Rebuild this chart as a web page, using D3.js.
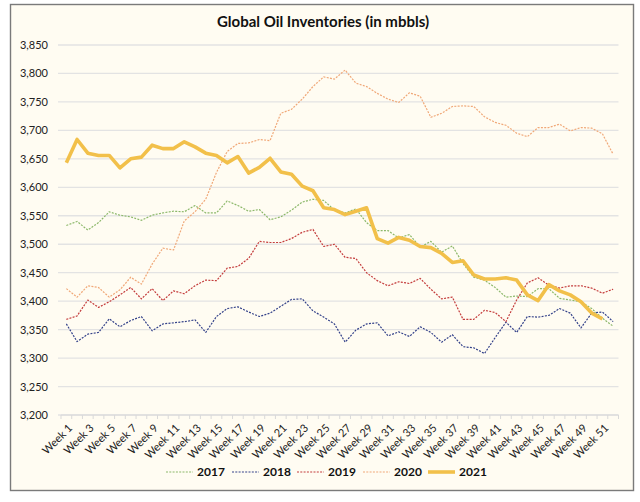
<!DOCTYPE html>
<html>
<head>
<meta charset="utf-8">
<script src="https://cdn.jsdelivr.net/npm/d3@7"></script>
<style>
  body { margin: 0; background: #ffffff; }
  text { font-family: Lato, "Open Sans", sans-serif; }
</style>
</head>
<body>
<div id="chart"></div>
<script>
// Input Data - weekly inventories (mbbls)
var weeks = d3.range(1, 53).map(function (i) { return "Week " + i; });
var yTicks = [3200, 3250, 3300, 3350, 3400, 3450, 3500, 3550, 3600, 3650, 3700, 3750, 3800, 3850];
var years = ["2017", "2018", "2019", "2020", "2021"];

var y2017 = [3533, 3540, 3525, 3538, 3557, 3551, 3548, 3542, 3551, 3555, 3558, 3557, 3568, 3555, 3555, 3576,
  3568, 3558, 3561, 3543, 3548, 3560, 3574, 3579, 3577, 3560, 3555, 3562, 3538, 3524, 3524, 3511, 3517, 3495,
  3505, 3486, 3497, 3466, 3442, 3437, 3424, 3407, 3409, 3408, 3422, 3422, 3405, 3402, 3399, 3387, 3370, 3356];
var y2018 = [3360, 3329, 3342, 3345, 3369, 3355, 3366, 3373, 3348, 3360, 3362, 3364, 3367, 3345, 3373, 3387,
  3390, 3381, 3373, 3379, 3391, 3403, 3404, 3383, 3372, 3360, 3328, 3349, 3360, 3362, 3339, 3346, 3338, 3355,
  3345, 3328, 3341, 3320, 3318, 3308, 3336, 3363, 3345, 3373, 3372, 3375, 3387, 3379, 3353, 3379, 3381, 3364];
var y2019 = [3368, 3374, 3402, 3389, 3399, 3411, 3424, 3404, 3422, 3401, 3418, 3413, 3427, 3437, 3436, 3458,
  3461, 3475, 3505, 3503, 3503, 3510, 3521, 3526, 3496, 3500, 3477, 3475, 3450, 3436, 3427, 3434, 3431, 3440,
  3421, 3404, 3407, 3368, 3368, 3384, 3380, 3364, 3402, 3432, 3441, 3428, 3423, 3427, 3427, 3423, 3414, 3421];
var y2020 = [3422, 3407, 3427, 3424, 3407, 3420, 3442, 3430, 3465, 3493, 3490, 3541, 3557, 3579, 3626, 3663,
  3677, 3678, 3684, 3682, 3730, 3737, 3755, 3777, 3794, 3790, 3806, 3783, 3777, 3765, 3755, 3749, 3766, 3760,
  3723, 3730, 3742, 3743, 3742, 3724, 3714, 3709, 3695, 3689, 3705, 3705, 3711, 3699, 3705, 3704, 3694, 3658];
var y2021 = [3643, 3684, 3660, 3656, 3656, 3634, 3650, 3653, 3674, 3668, 3668, 3680, 3671, 3660, 3656, 3643,
  3654, 3625, 3635, 3651, 3627, 3623, 3602, 3594, 3564, 3561, 3552, 3558, 3564, 3510, 3502, 3512, 3507, 3496,
  3494, 3484, 3468, 3471, 3446, 3439, 3439, 3441, 3437, 3411, 3401, 3429, 3418, 3411, 3399, 3379, 3369];

var seriesData = [y2017, y2018, y2019, y2020, y2021];
var colors = ["#8cb86a", "#34428a", "#c43c3c", "#f0a878", "#f2c04a"];

var W = 640, H = 502;
var margin = { top: 45, right: 22, bottom: 87, left: 61 };
var width = 618.5 - margin.left, height = 415 - margin.top;

var svgRoot = d3.select("#chart")
  .append("svg")
  .attr("width", W)
  .attr("height", H);

// chart frame
svgRoot.append("rect")
  .attr("x", 10.5).attr("y", 4.5)
  .attr("width", 623).attr("height", 486)
  .attr("fill", "#fffcf2")
  .attr("stroke", "#7a7a7a")
  .attr("stroke-width", 1.4);

svgRoot.append("text")
  .attr("x", 323).attr("y", 27)
  .attr("text-anchor", "middle")
  .style("font-size", "15px")
  .style("font-weight", "bold")
  .attr("fill", "#111")
  .text("Global Oil Inventories (in mbbls)");

var svg = svgRoot.append("g")
  .attr("transform", "translate(" + margin.left + "," + margin.top + ")");

// Specify the scales
var xScale = d3.scaleBand()
  .domain(weeks)
  .range([0, width])
  .padding(0);
var yScale = d3.scaleLinear()
  .domain([3200, 3850])
  .range([height, 0]);

function xMid(i) { return xScale(weeks[i]) + xScale.bandwidth() / 2; }

// gridlines
svg.append("g")
  .selectAll("line")
  .data(yTicks)
  .enter()
  .append("line")
  .attr("x1", -3)
  .attr("x2", width)
  .attr("y1", function (d) { return yScale(d); })
  .attr("y2", function (d) { return yScale(d); })
  .attr("stroke", "#e3e3e3")
  .attr("stroke-width", 1.3);

// y-axis labels
svg.append("g")
  .call(d3.axisLeft(yScale).tickValues(yTicks).tickFormat(d3.format(",")).tickSize(0).tickPadding(13))
  .call(function (g) { g.select(".domain").remove(); })
  .selectAll("text")
  .style("font-size", "11px")
  .attr("fill", "#222");

// x-axis
var xAxis = svg.append("g")
  .attr("transform", "translate(0," + height + ")");
xAxis.append("line")
  .attr("x1", 0).attr("x2", width)
  .attr("stroke", "#d9d9d9");
xAxis.selectAll("line.tick")
  .data(weeks.concat(["end"]))
  .enter()
  .append("line")
  .attr("class", "tick")
  .attr("x1", function (d, i) { return i < weeks.length ? xScale(d) : width; })
  .attr("x2", function (d, i) { return i < weeks.length ? xScale(d) : width; })
  .attr("y1", 0).attr("y2", 4)
  .attr("stroke", "#d9d9d9");
xAxis.selectAll("text")
  .data(weeks.filter(function (d, i) { return i % 2 === 0; }))
  .enter()
  .append("text")
  .attr("transform", function (d) {
    return "translate(" + (xScale(d) + xScale.bandwidth() / 2 + 4) + ",11)rotate(-45)";
  })
  .attr("text-anchor", "end")
  .attr("dy", "0.35em")
  .style("font-size", "11px")
  .attr("fill", "#222")
  .text(function (d) { return d; });

// Add Lines
var line = d3.line()
  .x(function (d, i) { return xMid(i); })
  .y(function (d) { return yScale(d); });

seriesData.forEach(function (s, k) {
  svg.append("path")
    .datum(s)
    .attr("d", line)
    .attr("fill", "none")
    .attr("stroke", colors[k])
    .attr("stroke-width", k === 4 ? 3.6 : 1.2)
    .attr("stroke-dasharray", k === 4 ? null : "2,1.3")
    .attr("stroke-linejoin", "round");
});

// legend
var legendX = [166, 232, 297, 363, 428];
var legend = svgRoot.append("g");
years.forEach(function (y, k) {
  legend.append("line")
    .attr("x1", legendX[k]).attr("x2", legendX[k] + 27)
    .attr("y1", 472).attr("y2", 472)
    .attr("stroke", colors[k])
    .attr("stroke-width", k === 4 ? 3.6 : 1.2)
    .attr("stroke-dasharray", k === 4 ? null : "2,1.3");
  legend.append("text")
    .attr("x", legendX[k] + 31).attr("y", 476)
    .style("font-size", "12px")
    .style("font-weight", "bold")
    .attr("fill", "#111")
    .text(y);
});
</script>
</body>
</html>
